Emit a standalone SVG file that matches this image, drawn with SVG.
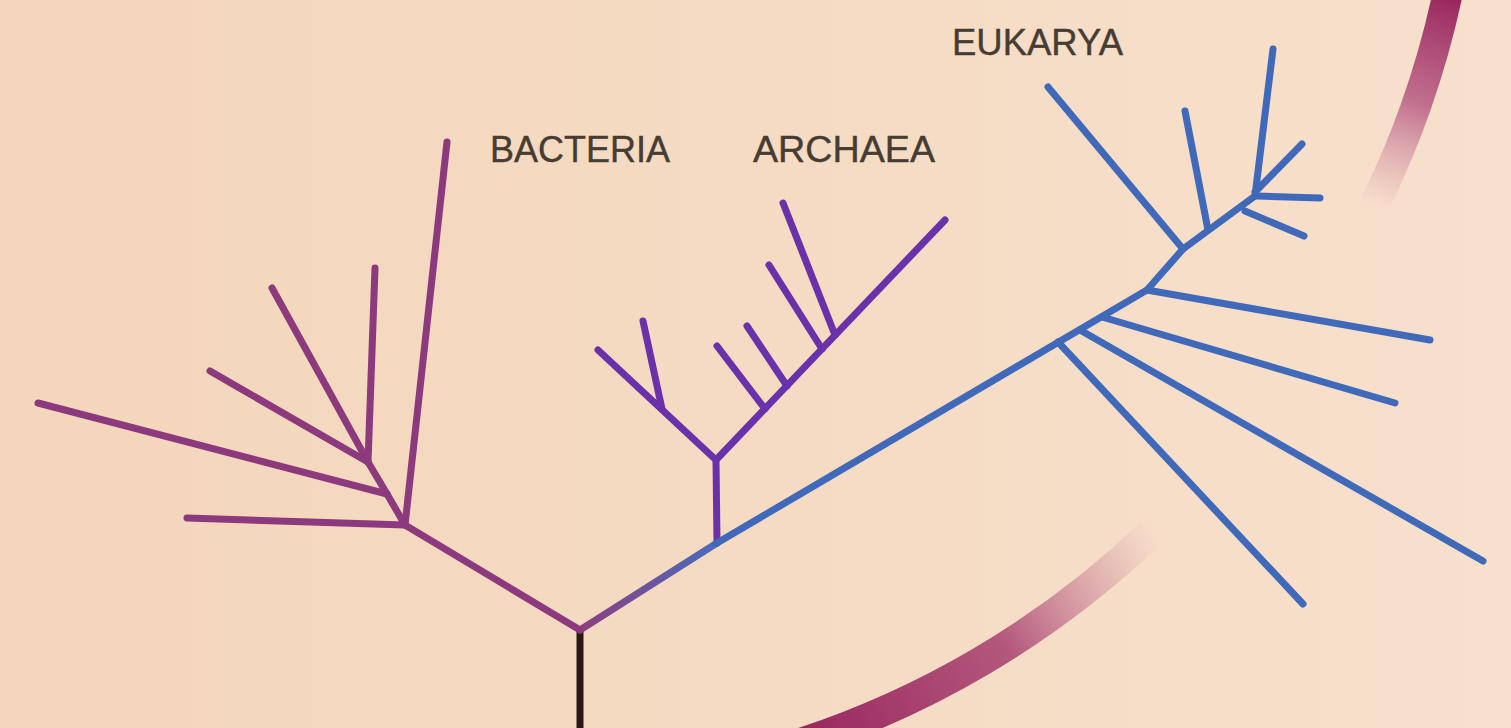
<svg xmlns="http://www.w3.org/2000/svg" width="1511" height="728" viewBox="0 0 1511 728">
<defs>
<style>
.lbl{font-family:"Liberation Sans",Arial,sans-serif;font-size:37px;fill:#463c32;stroke:#463c32;stroke-width:0.4;}
.br{fill:none;stroke-width:7;stroke-linecap:round;stroke-linejoin:round;}
.bac{stroke:#8c3a7d;}
.arc{stroke:#6b31aa;}
.euk{stroke:#4069b9;}
</style>
<linearGradient id="bg" x1="0" y1="0" x2="1" y2="0">
<stop offset="0" stop-color="#f3d6bb"/>
<stop offset="1" stop-color="#f7e0cc"/>
</linearGradient>
<linearGradient id="trunk" gradientUnits="userSpaceOnUse" x1="585" y1="628" x2="717" y2="543">
<stop offset="0" stop-color="#8a3f80"/>
<stop offset="1" stop-color="#4a6cbc"/>
</linearGradient>
<linearGradient id="arcLow" gradientUnits="userSpaceOnUse" x1="800" y1="735" x2="1150" y2="530">
<stop offset="0" stop-color="#98265e"/>
<stop offset="0.55" stop-color="#a8406f" stop-opacity="0.85"/>
<stop offset="1" stop-color="#c06a8e" stop-opacity="0"/>
</linearGradient>
<linearGradient id="arcHigh" gradientUnits="userSpaceOnUse" x1="1446" y1="-5" x2="1372" y2="205">
<stop offset="0" stop-color="#98265e"/>
<stop offset="0.5" stop-color="#b04a7a" stop-opacity="0.75"/>
<stop offset="1" stop-color="#c87a98" stop-opacity="0"/>
</linearGradient>
</defs>
<rect width="1511" height="728" fill="url(#bg)"/>
<g id="arcs" fill="none" stroke-width="30">
<path d="M 785 748 A 928 928 0 0 0 1152 532" stroke="url(#arcLow)"/>
<path d="M 1448 -8 A 910 910 0 0 1 1372 210" stroke="url(#arcHigh)"/>
</g>
<g id="connectors">
<line class="br" x1="580" y1="630" x2="580" y2="732" stroke="#2a1815" stroke-linecap="butt"/>
<polyline class="br" points="580,630 717,543" stroke="url(#trunk)"/>
<g id="bacteria-branches">
<polyline class="br bac" points="580,630 405,525 387,494 368,462"/>
<line class="br bac" x1="405" y1="525" x2="447" y2="142"/>
<line class="br bac" x1="405" y1="525" x2="187" y2="518"/>
<line class="br bac" x1="387" y1="494" x2="38" y2="403"/>
<line class="br bac" x1="368" y1="462" x2="210" y2="371"/>
<line class="br bac" x1="368" y1="462" x2="272" y2="288"/>
<line class="br bac" x1="368" y1="462" x2="375" y2="268"/>
</g>
<g id="archaea-branches">
<polyline class="br arc" points="717,543 716,460 598,350"/>
<line class="br arc" x1="716" y1="460" x2="945" y2="220"/>
<line class="br arc" x1="662" y1="409" x2="643" y2="321"/>
<line class="br arc" x1="765" y1="409" x2="717" y2="346"/>
<line class="br arc" x1="787" y1="386" x2="747" y2="326"/>
<line class="br arc" x1="822" y1="349" x2="769" y2="265"/>
<line class="br arc" x1="835" y1="335" x2="783" y2="203"/>
</g>
<g id="eukarya-branches">
<polyline class="br euk" points="717,543 1147,290 1183,249 1255,196"/>
<line class="br euk" x1="1058" y1="342" x2="1303" y2="604"/>
<line class="br euk" x1="1080" y1="330" x2="1483" y2="561"/>
<line class="br euk" x1="1102" y1="317" x2="1395" y2="403"/>
<line class="br euk" x1="1147" y1="290" x2="1430" y2="340"/>
<line class="br euk" x1="1183" y1="249" x2="1048" y2="87"/>
<line class="br euk" x1="1208" y1="230" x2="1185" y2="111"/>
<line class="br euk" x1="1255" y1="196" x2="1273" y2="49"/>
<line class="br euk" x1="1255" y1="192" x2="1302" y2="144"/>
<line class="br euk" x1="1258" y1="196" x2="1320" y2="198"/>
<line class="br euk" x1="1245" y1="211" x2="1304" y2="236"/>
</g>
</g>
<g id="bacteria"><text class="lbl" x="490" y="162" textLength="180" lengthAdjust="spacingAndGlyphs">BACTERIA</text></g>
<g id="archaea"><text class="lbl" x="753" y="162" textLength="182" lengthAdjust="spacingAndGlyphs">ARCHAEA</text></g>
<g id="eukarya"><text class="lbl" x="952" y="55" textLength="171" lengthAdjust="spacingAndGlyphs">EUKARYA</text></g>
</svg>
